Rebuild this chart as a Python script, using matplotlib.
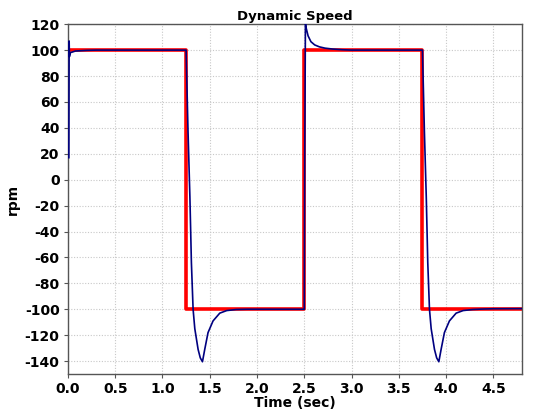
import matplotlib.pyplot as plt

# speed reference (square wave), rpm
ref_t = [0.01, 1.25, 2.5, 3.75, 4.8]
ref_rpm = [100, -100, 100, -100, -100]

# measured rotor speed, rpm
spd_t = [0.01, 0.013, 0.016, 0.025, 0.08, 0.2, 0.3, 1.25,
         1.27, 1.29, 1.306, 1.324, 1.342, 1.377, 1.40, 1.423, 1.447,
         1.482, 1.535, 1.606, 1.68, 1.78, 1.90, 2.0, 2.5,
         2.505, 2.512, 2.52, 2.54, 2.57, 2.61, 2.66, 2.72, 2.80, 2.90,
         3.0, 3.75,
         3.77, 3.79, 3.806, 3.824, 3.842, 3.877, 3.90, 3.923, 3.947,
         3.982, 4.035, 4.106, 4.18, 4.28, 4.40, 4.5, 4.8]
spd_rpm = [17, 107, 95, 98, 99.3, 99.8, 100, 100,
           38, -13, -64, -100, -115, -131, -137.5, -140.5, -131,
           -118, -109, -103, -101, -100.2, -100, -100, -100,
           20, 121, 117, 111, 106.5, 104, 102.5, 101.5, 100.8, 100.3,
           100, 100,
           38, -13, -64, -100, -115, -131, -137.5, -140.5, -131,
           -118, -109, -103, -101, -100.2, -99.8, -99.6, -99.5]

x_ticks = [0.0, 0.5, 1.0, 1.5, 2.0, 2.5, 3.0, 3.5, 4.0, 4.5]
y_ticks = list(range(-140, 121, 20))

plt.rcParams['font.family'] = ['DejaVu Sans']
plt.rcParams['font.weight'] = 'bold'
plt.rcParams['axes.unicode_minus'] = False

fig = plt.figure(figsize=(5.39, 4.17), dpi=100)
ax = fig.add_axes([0.126, 0.103, 0.842, 0.839])

ax.step(ref_t, ref_rpm, where='post', color='#ff0000', lw=2.6, zorder=2)
ax.plot(spd_t, spd_rpm, color='#000080', lw=1.2, zorder=3)

ax.set_xlim(0, 4.8)
ax.set_ylim(-150, 120)
ax.set_xticks(x_ticks)
ax.set_xticklabels(['%.1f' % v for v in x_ticks])
ax.set_yticks(y_ticks)

ax.grid(True, color='#c8c8c8', linestyle=(0, (1, 1.5)), linewidth=0.8)
for s in ax.spines.values():
    s.set_color('#555555')
    s.set_linewidth(1.0)
ax.tick_params(axis='both', labelsize=10, length=3, color='#555555', pad=3)
for lab in ax.get_xticklabels() + ax.get_yticklabels():
    lab.set_fontweight('bold')

ax.set_title('Dynamic Speed', fontsize=9.5, fontweight='bold', pad=3)
ax.set_xlabel('Time (sec)', fontsize=10, fontweight='bold', labelpad=0)
ax.set_ylabel('rpm', fontsize=10, fontweight='bold')
ax.yaxis.set_label_coords(-0.106, 0.5)

fig.savefig('out.png', dpi=100)
